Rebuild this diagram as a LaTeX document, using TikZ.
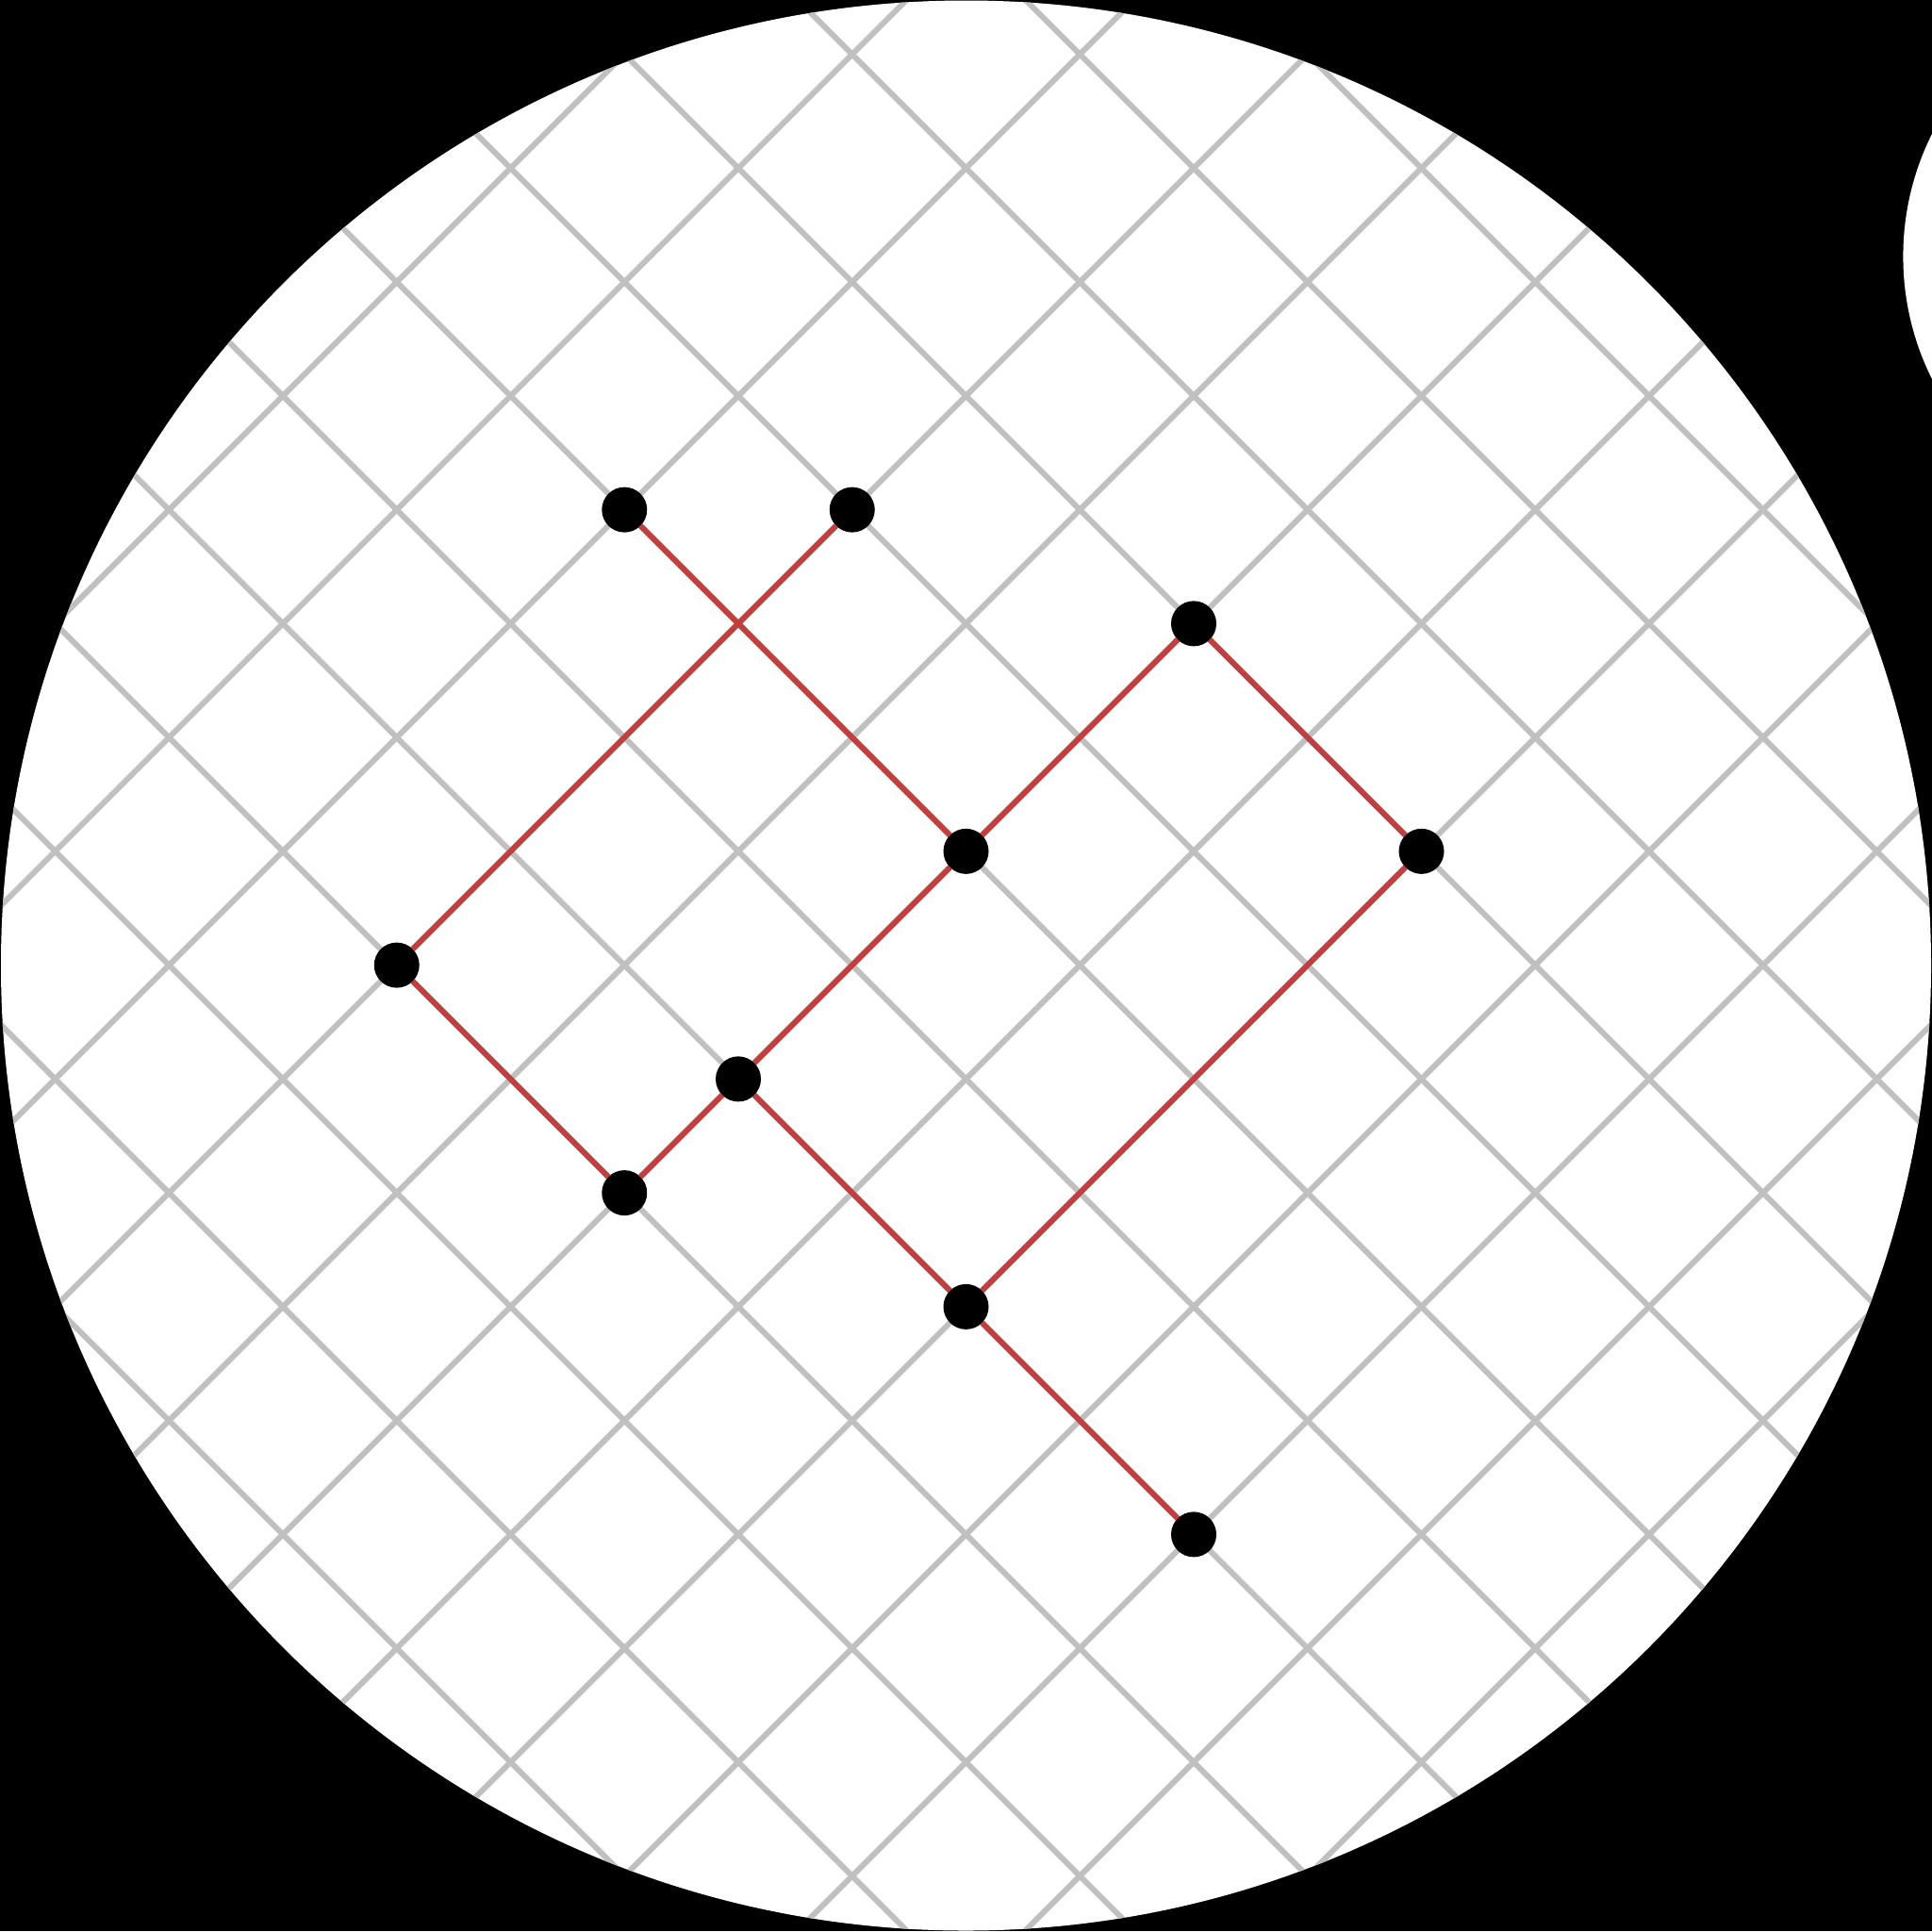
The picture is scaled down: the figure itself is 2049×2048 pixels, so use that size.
\documentclass[tikz,border=0pt]{standalone}
\definecolor{gridgray}{RGB}{192,192,192}
\definecolor{edgered}{RGB}{192,64,64}
\begin{document}
\begin{tikzpicture}[x=1pt,y=-1pt,
  gridline/.style={draw=gridgray, line width=6pt},
  edgeline/.style={draw=edgered, line width=6pt},
  dot/.style={circle, fill=black, minimum size=48pt, inner sep=0pt, outer sep=0pt}]
  % background
  \fill[black] (0,0) rectangle (2049,2048);
  \useasboundingbox (0,0) rectangle (2049,2048);
  % small white disc at the right
  \fill[white] (2309,272) circle[radius=290.6];
  % main disc
  \fill[white] (1024.5,1024) circle[radius=1023.5];
  \begin{scope}
    \clip (1024.5,1024) circle[radius=1023.5];
    \begin{scope}[shift={(1024.5pt,-1023.6pt)}, x=120.75pt, y=-120.75pt]
      \foreach \k in {-19,-17,...,19} {
        \draw[gridline] (-11,-11-\k) -- (11,11-\k);
        \draw[gridline] (-11,\k+11) -- (11,\k-11);
      }
    \end{scope}
  \end{scope}
  \begin{scope}[shift={(1024.5pt,-1023.6pt)}, x=120.75pt, y=-120.75pt]
    \node[dot] (a) at (-3,-4) {};
    \node[dot] (b) at (-1,-4) {};
    \node[dot] (c) at (2,-3) {};
    \node[dot] (d) at (0,-1) {};
    \node[dot] (e) at (4,-1) {};
    \node[dot] (f) at (-5,0) {};
    \node[dot] (g) at (-2,1) {};
    \node[dot] (h) at (-3,2) {};
    \node[dot] (i) at (0,3) {};
    \node[dot] (j) at (2,5) {};
    \draw[edgeline] (a) -- (d);
    \draw[edgeline] (b) -- (f);
    \draw[edgeline] (f) -- (h);
    \draw[edgeline] (h) -- (g);
    \draw[edgeline] (g) -- (d);
    \draw[edgeline] (d) -- (c);
    \draw[edgeline] (c) -- (e);
    \draw[edgeline] (e) -- (i);
    \draw[edgeline] (g) -- (i);
    \draw[edgeline] (i) -- (j);
  \end{scope}
\end{tikzpicture}
\end{document}
